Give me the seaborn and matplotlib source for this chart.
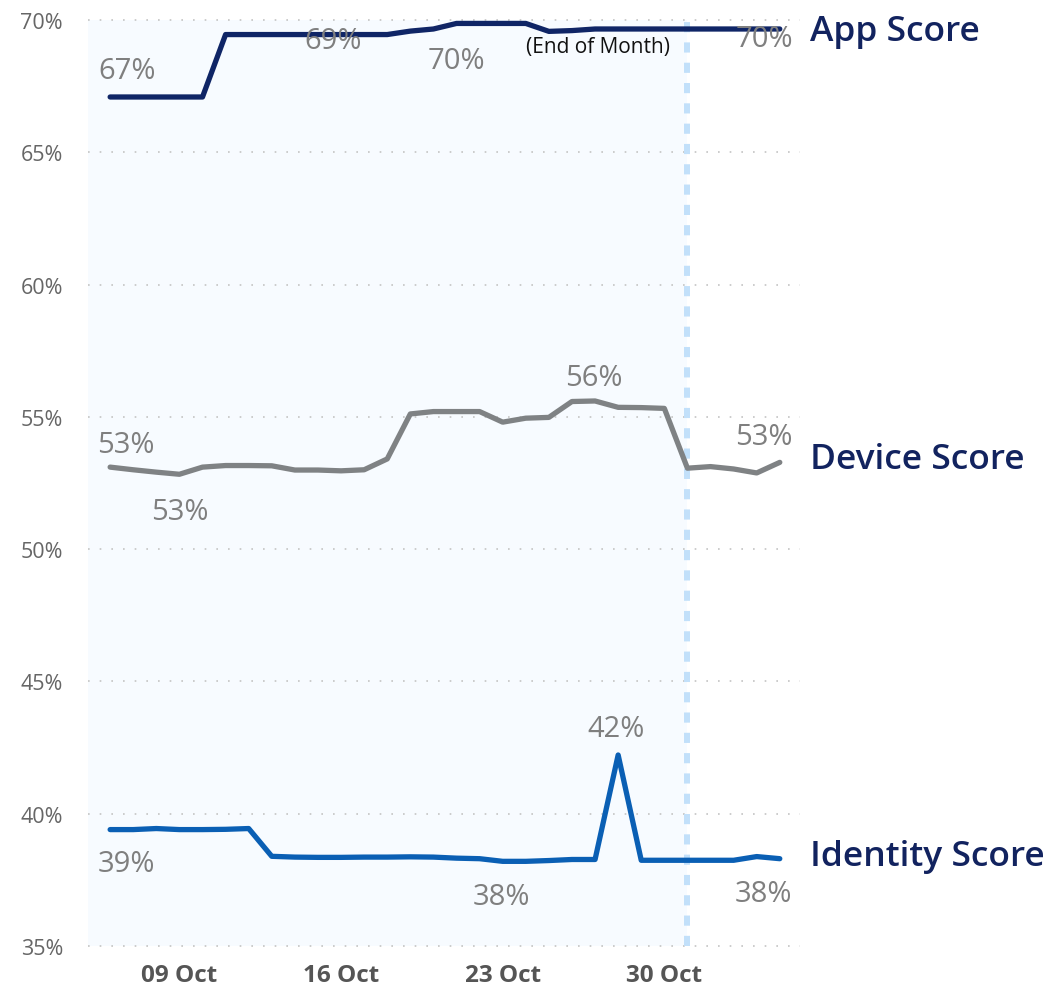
import numpy as np
import pandas as pd
import matplotlib
matplotlib.use("Agg")
import matplotlib.pyplot as plt
import matplotlib.dates as mdates
import matplotlib.transforms as mtransforms
import seaborn as sns

# ---------------- data ----------------
dates = pd.date_range("2023-10-06", periods=30, freq="D")
app_score = [67.09, 67.09, 67.09, 67.09, 67.09, 69.45, 69.45, 69.45, 69.45, 69.45,
             69.45, 69.45, 69.45, 69.58, 69.66, 69.87, 69.87, 69.87, 69.87, 69.57,
             69.60, 69.66, 69.66, 69.66, 69.66, 69.66, 69.66, 69.66, 69.66, 69.66]
device_score = [53.10, 53.00, 52.91, 52.83, 53.10, 53.16, 53.16, 53.15, 52.99, 52.99,
                52.96, 53.00, 53.41, 55.11, 55.20, 55.20, 55.20, 54.80, 54.95, 54.98,
                55.58, 55.60, 55.36, 55.35, 55.32, 53.06, 53.12, 53.03, 52.88, 53.28]
identity_score = [39.40, 39.40, 39.44, 39.40, 39.40, 39.41, 39.44, 38.39, 38.36, 38.35,
                  38.35, 38.36, 38.36, 38.37, 38.36, 38.32, 38.30, 38.20, 38.20, 38.23,
                  38.27, 38.27, 42.22, 38.24, 38.24, 38.24, 38.24, 38.24, 38.38, 38.30]
series_names = ["App Score", "Device Score", "Identity Score"]
y_ticks = [35, 40, 45, 50, 55, 60, 65, 70]
x_tick_dates = ["2023-10-09", "2023-10-16", "2023-10-23", "2023-10-30"]
end_of_month = "2023-10-31"
end_label = "(End of Month)"

# (series index, point index, dx px, dy px)
label_spec = [
    (0, 0, 17, 26), (0, 9, 15, -6), (0, 15, 0, -37), (0, 29, -15, -10),
    (1, 0, 16, 23), (1, 3, 0, -37), (1, 21, -1, 23), (1, 29, -16, 26),
    (2, 0, 16, -34), (2, 17, -1, -35), (2, 22, -2, 26), (2, 29, -16, -35),
]

colors = {"App Score": "#0f2566", "Device Score": "#7f8284", "Identity Score": "#0a5fb4"}
name_color = "#12235f"

# ---------------- figure ----------------
sns.set_theme(style="white")
plt.rcParams["font.family"] = ["Open Sans", "DejaVu Sans"]

fig = plt.figure(figsize=(10.51, 9.87), dpi=100)
ax = fig.add_axes([88 / 1051, 1 - 947 / 987, 712 / 1051, 926 / 987])

df = pd.DataFrame({
    "date": np.tile(dates, 3),
    "score": app_score + device_score + identity_score,
    "series": np.repeat(series_names, len(dates)),
})

xmin = mdates.date2num(pd.Timestamp("2023-10-05 01:00"))
xmax = mdates.date2num(pd.Timestamp("2023-11-04 21:00"))
eom = mdates.date2num(pd.Timestamp(end_of_month))

ax.axvspan(xmin, eom, color="#f7fbff", zorder=0, lw=0)
for yv in y_ticks:
    ax.axhline(yv, color="#c4c4c4", lw=1.2, ls=(0, (1, 6)), zorder=1)

sns.lineplot(data=df, x="date", y="score", hue="series", palette=colors,
             linewidth=3.8, ax=ax, legend=False, zorder=3)
for ln in ax.get_lines():
    ln.set_clip_on(False)
    ln.set_solid_capstyle("round")
    ln.set_solid_joinstyle("round")

ax.axvline(eom, color="#c2e0fa", lw=4.3, ls=(0, (1.7, 1.7)), zorder=2)
ax.annotate(end_label, xy=(eom, 70), xytext=(-17, -16), textcoords="offset pixels",
            ha="right", va="top", fontsize=15, color="#111111", zorder=5)

ax.set_xlim(xmin, xmax)
ax.set_ylim(35, 70)
ax.set_yticks(y_ticks)
ax.set_yticklabels([f"{v}%" for v in y_ticks], fontsize=15.5, color="#666666")
ax.set_xticks([mdates.date2num(pd.Timestamp(d)) for d in x_tick_dates])
ax.set_xticklabels([pd.Timestamp(d).strftime("%d %b") for d in x_tick_dates],
                   fontsize=17.5, fontweight="bold", color="#555555")
ax.tick_params(axis="y", length=0, pad=18)
ax.tick_params(axis="x", length=0, pad=12)
ax.set_xlabel("")
ax.set_ylabel("")
for s in ax.spines.values():
    s.set_visible(False)
ax.grid(False)

all_vals = [app_score, device_score, identity_score]
for si, pi, dx, dy in label_spec:
    v = all_vals[si][pi]
    ax.annotate(f"{round(v):.0f}%", xy=(mdates.date2num(dates[pi]), v),
                xytext=(dx, dy), textcoords="offset pixels", ha="center", va="center",
                fontsize=21, color="#7f7f7f", zorder=6, annotation_clip=False)

trans = mtransforms.blended_transform_factory(ax.transAxes, ax.transData)
name_y = [69.58, 53.41, 38.41]
for name, yv in zip(series_names, name_y):
    ax.text(1.014, yv, name, transform=trans, ha="left", va="center",
            fontsize=25.5, fontweight="semibold", color=name_color, clip_on=False)

fig.savefig("out.png", dpi=100)
